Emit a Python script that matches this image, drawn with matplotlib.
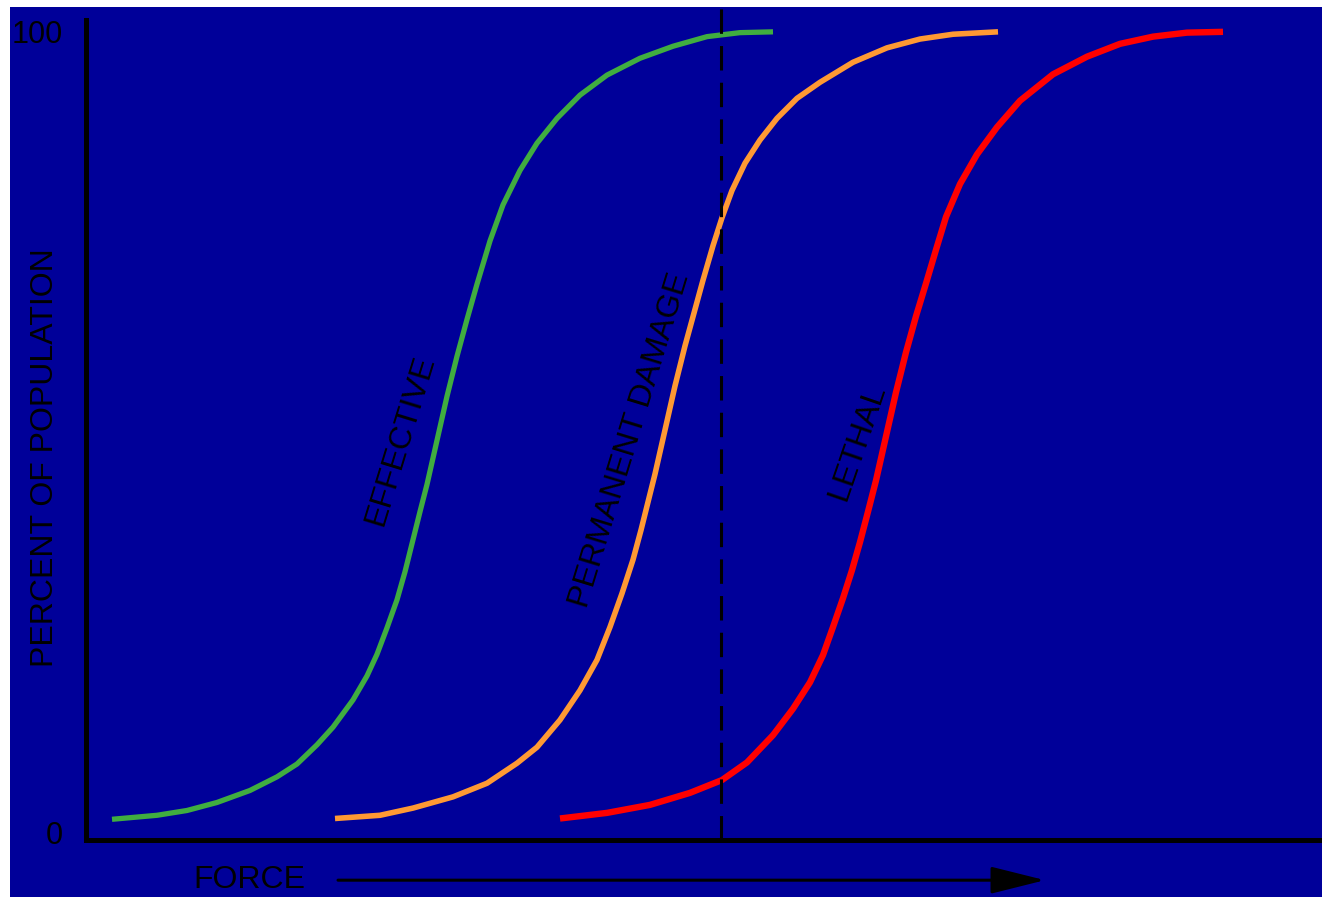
import matplotlib.pyplot as plt

# curve data (force in arbitrary units, percent of population)
effective_x = [2.6, 7.1, 10.1, 13.1, 16.4, 19.1, 21.1, 23.1, 24.7, 26.7, 28.1, 29.1,
               30.1, 31.1, 31.9, 32.7, 33.4, 34.1, 35.1, 36.1, 37.1, 38.1, 39.1,
               40.4, 41.7, 43.4, 45.1, 47.1, 49.4, 52.1, 55.4, 58.7, 62.1, 65.4, 68.7]
effective_y = [1.6, 2.1, 2.7, 3.7, 5.2, 6.9, 8.5, 10.9, 13.1, 16.5, 19.5, 22.2,
               25.5, 29.0, 32.5, 36.5, 40.0, 43.4, 48.9, 54.4, 59.4, 64.0, 68.4,
               73.8, 78.3, 82.6, 86.0, 89.1, 92.0, 94.5, 96.6, 98.1, 99.3, 99.8, 99.9]

damage_x = [24.9, 29.4, 32.7, 36.7, 40.1, 43.1, 45.1, 47.4, 49.4, 51.1, 52.4, 53.6,
            54.7, 55.5, 56.2, 56.9, 57.9, 58.9, 59.9, 60.8, 61.7, 62.7, 63.6, 64.6,
            65.9, 67.4, 69.1, 71.1, 73.4, 76.7, 80.1, 83.4, 86.7, 91.2]
damage_y = [1.7, 2.1, 3.0, 4.4, 6.1, 8.6, 10.6, 14.0, 17.7, 21.5, 25.6, 29.8,
            34.0, 37.7, 41.2, 44.7, 50.2, 55.7, 60.7, 64.8, 68.9, 73.2, 76.7, 80.1,
            83.5, 86.4, 89.1, 91.6, 93.6, 96.1, 97.9, 99.0, 99.6, 99.9]

lethal_x = [47.4, 52.1, 56.4, 60.4, 63.6, 66.1, 68.7, 70.7, 72.4, 73.7, 74.7, 75.7,
            76.6, 77.4, 78.2, 79.0, 80.0, 81.0, 82.0, 83.0, 84.0, 85.0, 86.0, 87.4,
            89.1, 91.1, 93.4, 96.7, 100.1, 103.4, 106.7, 110.1, 113.7]
lethal_y = [1.7, 2.4, 3.4, 4.9, 6.5, 8.7, 12.1, 15.4, 18.7, 22.1, 25.6, 29.2,
            32.7, 36.2, 40.0, 43.9, 49.4, 54.9, 59.9, 64.4, 68.5, 72.7, 76.8, 80.9,
            84.6, 88.0, 91.3, 94.6, 96.8, 98.4, 99.3, 99.8, 99.9]

force_mark = 63.5
y_ticks = [0, 100]
y_ticklabels = ['0', '100']

# layout
xlo, xhi = -7.6, 123.6
ylo, yhi = -8.1, 103.0
axis_y = -1.0
bg = '#000099'

plt.rcParams['font.family'] = ['Liberation Sans', 'DejaVu Sans']

fig = plt.figure(figsize=(13.22, 8.97), dpi=100, facecolor='white')
ax = fig.add_axes([10 / 1322, 0, 1312 / 1322, 890 / 897], facecolor=bg)

line_kw = dict(solid_joinstyle='round', solid_capstyle='butt')
ax.plot(effective_x, effective_y, color='#40AD40', lw=3.8, **line_kw)
ax.plot(damage_x, damage_y, color='#FF9933', lw=4.0, **line_kw)
ax.plot(lethal_x, lethal_y, color='#FF0000', lw=4.6, **line_kw)

ax.axvline(force_mark, ymin=(axis_y - ylo) / (yhi - ylo), ymax=1,
           color='black', lw=2.2, linestyle=(0, (8, 4)))

ax.set_xlim(xlo, xhi)
ax.set_ylim(ylo, yhi)

for s in ['top', 'right']:
    ax.spines[s].set_visible(False)
ax.spines['left'].set_position(('data', 0))
ax.spines['bottom'].set_position(('data', axis_y))
ax.spines['left'].set_bounds(axis_y, 101.4)
ax.spines['bottom'].set_bounds(0, xhi)
for s in ['left', 'bottom']:
    ax.spines[s].set_linewidth(3.6)
    ax.spines[s].set_color('black')

ax.set_xticks([])
ax.set_yticks(y_ticks)
ax.set_yticklabels(y_ticklabels)
ax.tick_params(axis='y', length=0, pad=17, labelsize=22, labelcolor='black')

txt = dict(fontsize=23, color='black', ha='center', va='center', rotation_mode='anchor')
ax.text(31.4, 48.9, 'EFFECTIVE', rotation=73, **txt)
ax.text(54.4, 48.9, 'PERMANENT DAMAGE', rotation=73, **txt)
ax.text(77.2, 48.7, 'LETHAL', rotation=71, **txt)
ax.text(-4.1, 46.8, 'PERCENT OF POPULATION', rotation=90, **txt)
ax.text(16.3, -6.0, 'FORCE', **txt)

ax.annotate('', xy=(95.9, -6.0), xytext=(25.2, -6.0),
            arrowprops=dict(arrowstyle='-|>,head_length=2.4,head_width=0.6',
                            mutation_scale=14, lw=2.2, color='black',
                            shrinkA=0, shrinkB=0))

fig.savefig('out.png', dpi=100, facecolor='white')
